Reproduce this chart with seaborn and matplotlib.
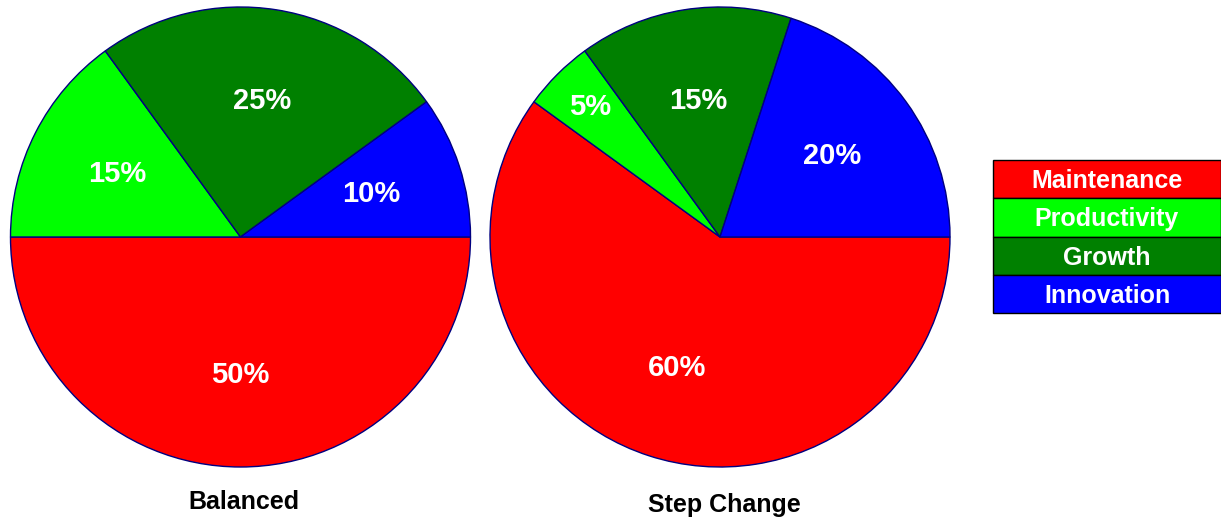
import matplotlib
matplotlib.use('Agg')
import numpy as np
import matplotlib.pyplot as plt
from matplotlib.patches import Rectangle
import seaborn as sns

categories = ['Maintenance', 'Productivity', 'Growth', 'Innovation']
balanced = [50, 15, 25, 10]
step_change = [60, 5, 15, 20]
titles = ['Balanced', 'Step Change']
colors = ['#FF0000', '#00FF00', '#008000', '#0000FF']

sns.set_style('white')
plt.rcParams['font.family'] = ['Liberation Sans', 'DejaVu Sans']

fig = plt.figure(figsize=(12.21, 5.19), dpi=100)

ax_left = fig.add_axes([10 / 1221, 52 / 519, 461 / 1221, 460 / 519])
ax_right = fig.add_axes([489 / 1221, 52 / 519, 462 / 1221, 460 / 519])

for ax, vals in zip([ax_left, ax_right], [balanced, step_change]):
    wedges, texts, autotexts = ax.pie(
        vals, colors=sns.color_palette(colors), startangle=0, counterclock=False,
        autopct='%d%%', pctdistance=0.6,
        wedgeprops={'edgecolor': '#000080', 'linewidth': 1.0},
        textprops={'color': 'white', 'fontsize': 21, 'fontweight': 'bold'})
    # small slices get their label pushed further out
    for v, w, t in zip(vals, wedges, autotexts):
        if v < 10:
            ang = np.deg2rad((w.theta1 + w.theta2) / 2)
            t.set_position((0.8 * np.cos(ang), 0.8 * np.sin(ang)))
    ax.set_xlim(-1, 1)
    ax.set_ylim(-1, 1)
    ax.set_aspect('equal')
    ax.axis('off')

fig.text(244 / 1221, 1 - 502 / 519, titles[0], ha='center', va='center',
         fontsize=18, fontweight='bold', color='black')
fig.text(724 / 1221, 1 - 505 / 519, titles[1], ha='center', va='center',
         fontsize=18, fontweight='bold', color='black')

# legend as a stack of coloured boxes
lax = fig.add_axes([993 / 1221, 206 / 519, 228 / 1221, 153 / 519])
lax.set_xlim(0, 1)
lax.set_ylim(0, len(categories))
lax.axis('off')
for i, (name, col) in enumerate(zip(categories, colors)):
    y = len(categories) - 1 - i
    lax.add_patch(Rectangle((0, y), 1, 1, facecolor=col, edgecolor='black',
                            linewidth=1.0, clip_on=False))
    lax.text(0.5, y + 0.45, name, ha='center', va='center', color='white',
             fontsize=18, fontweight='bold')

fig.savefig('out.png', dpi=100)
